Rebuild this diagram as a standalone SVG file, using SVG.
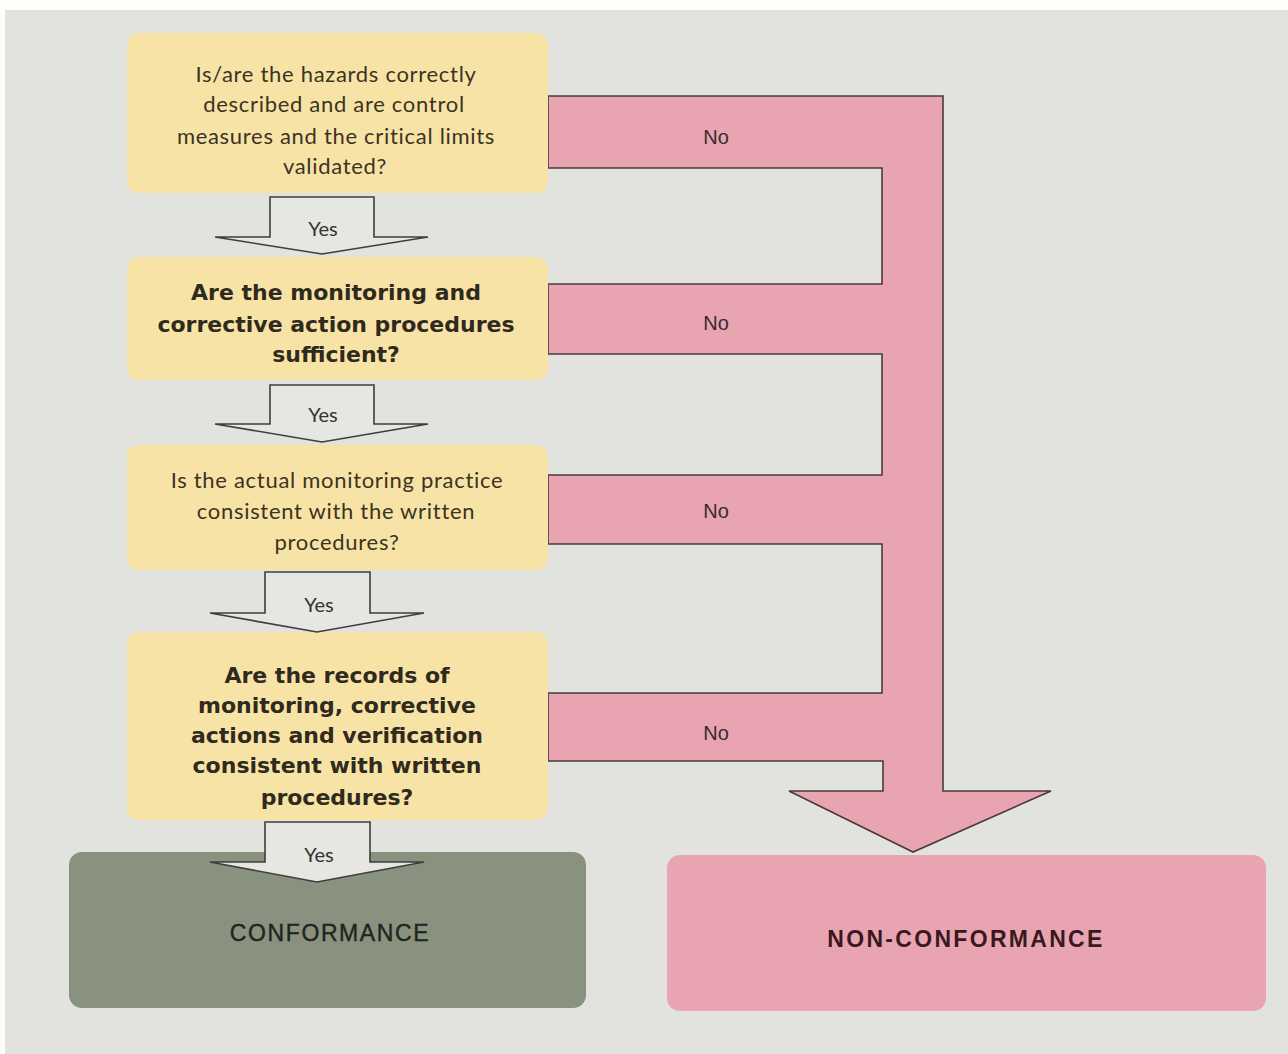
<svg xmlns="http://www.w3.org/2000/svg" width="1288" height="1054" viewBox="0 0 1288 1054">
<style>
.q{fill:#f8e3a6}
.qt{font-family:"Lato","Liberation Sans",sans-serif;font-size:22px;letter-spacing:0.7px;fill:#3b3322;text-anchor:middle}
.qb{font-family:"DejaVu Sans","Liberation Sans",sans-serif;font-size:22px;font-weight:bold;fill:#2e2a1e;text-anchor:middle}
.yes{fill:#e6e6e2;stroke:#3e3e3e;stroke-width:1.6;stroke-linejoin:miter}
.yt{font-family:"Lato","Liberation Sans",sans-serif;font-size:20px;fill:#333;text-anchor:middle}
.no{font-family:"Liberation Sans",Arial,sans-serif;font-size:20px;fill:#3a2a2e;text-anchor:middle}
</style>
<rect x="0" y="0" width="1288" height="1054" fill="#fdfdfb"/>
<rect x="5" y="10" width="1283" height="1044" fill="#e2e2de"/>

<g id="connectors">
<path id="no-flow" d="M548,96 H943 V791 H1051 L913,852 L789,791 H883 V761 H548 V693 H882 V544 H548 V475 H882 V354 H548 V284 H882 V168 H548 Z" fill="#e8a5b1" stroke="#4a3a3c" stroke-width="1.6" stroke-linejoin="miter"/>
<text class="no" x="716" y="144">No</text>
<text class="no" x="716" y="330">No</text>
<text class="no" x="716" y="518">No</text>
<text class="no" x="716" y="740">No</text>
</g>

<g id="q1">
<rect class="q" x="127" y="33" width="421" height="160" rx="12"/>
<text class="qt" x="336" y="82">Is/are the hazards correctly</text>
<text class="qt" x="334" y="112">described and are control</text>
<text class="qt" x="336" y="144">measures and the critical limits</text>
<text class="qt" x="335" y="174">validated?</text>
</g>

<g id="q2">
<rect class="q" x="127" y="257" width="421" height="123" rx="12"/>
<text class="qb" x="336" y="300">Are the monitoring and</text>
<text class="qb" x="336" y="332">corrective action procedures</text>
<text class="qb" x="336" y="362">sufficient?</text>
</g>

<g id="q3">
<rect class="q" x="127" y="445" width="421" height="125" rx="12"/>
<text class="qt" x="337" y="488">Is the actual monitoring practice</text>
<text class="qt" x="336" y="519">consistent with the written</text>
<text class="qt" x="337" y="550">procedures?</text>
</g>

<g id="q4">
<rect class="q" x="127" y="632" width="421" height="188" rx="12"/>
<text class="qb" x="337" y="683">Are the records of</text>
<text class="qb" x="337" y="713">monitoring, corrective</text>
<text class="qb" x="337" y="743">actions and verification</text>
<text class="qb" x="337" y="773">consistent with written</text>
<text class="qb" x="337" y="805">procedures?</text>
</g>

<g id="conformance">
<rect x="69" y="852" width="517" height="156" rx="13" fill="#89917f"/>
<text x="330" y="941" font-family="Liberation Sans,Arial,sans-serif" font-size="23" letter-spacing="1.6" fill="#22241e" stroke="#22241e" stroke-width="0.4" text-anchor="middle">CONFORMANCE</text>
</g>

<g id="non-conformance">
<rect x="667" y="855" width="599" height="156" rx="13" fill="#e8a5b1"/>
<text x="966" y="947" font-family="Liberation Sans,Arial,sans-serif" font-size="23" font-weight="bold" letter-spacing="2.3" fill="#3a1820" text-anchor="middle">NON-CONFORMANCE</text>
</g>

<g id="yes-arrows">
<path class="yes" d="M270,197 H374 V237 H428 L322,254 L215,237 H270 Z"/>
<text class="yt" x="323" y="236">Yes</text>
<path class="yes" d="M270,385 H374 V424 H428 L322,442 L215,424 H270 Z"/>
<text class="yt" x="323" y="422">Yes</text>
<path class="yes" d="M265,572 H370 V613 H424 L317,632 L210,613 H265 Z"/>
<text class="yt" x="319" y="612">Yes</text>
<path class="yes" d="M265,822 H370 V862 H424 L317,882 L210,862 H265 Z"/>
<text class="yt" x="319" y="862">Yes</text>
</g>
</svg>
